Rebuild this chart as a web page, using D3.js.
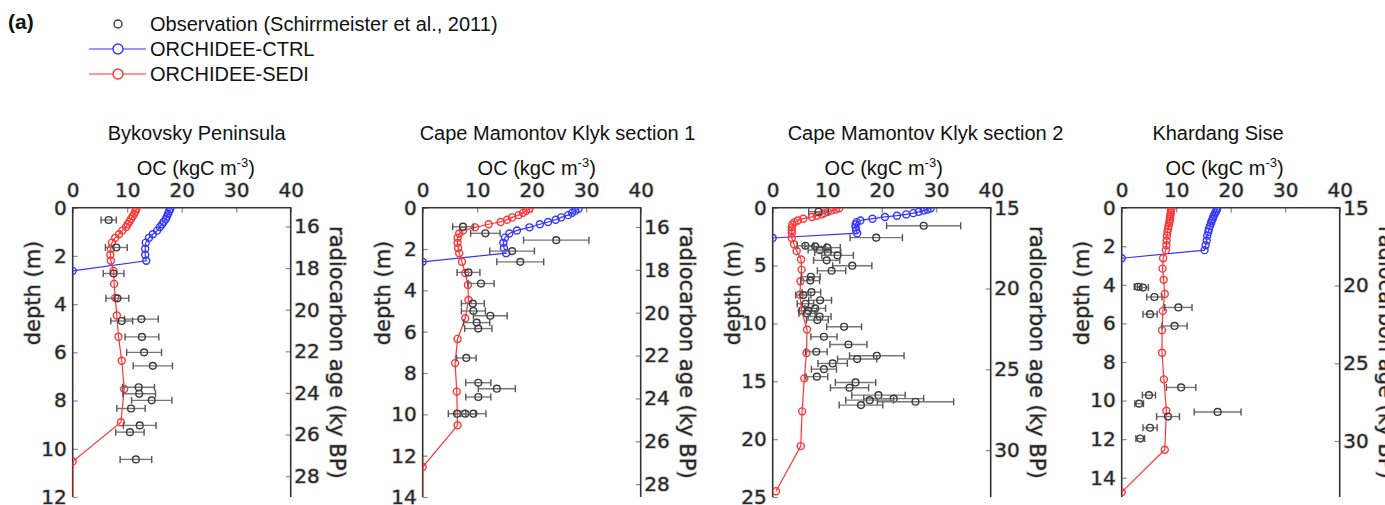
<!DOCTYPE html>
<html>
<head>
<meta charset="utf-8">
<script src="https://d3js.org/d3.v7.min.js"></script>
<style>
	body { margin: 0; background: #fff; }
	svg { display: block; }
	.num { font-family: "DejaVu Sans", sans-serif; fill: #262626; stroke: #c4c4c4; stroke-width: 1.5px; paint-order: stroke; }
	.plain { font-family: "Liberation Sans", Arial, sans-serif; fill: #111; }
</style>
</head>
<body>
<svg id="fig" width="1385" height="505"></svg>
<script>
// ------------------------------------------------------------------------
//		Data
// ------------------------------------------------------------------------
var siteNames = ["Bykovsky Peninsula", "Cape Mamontov Klyk section 1", "Cape Mamontov Klyk section 2", "Khardang Sise"];
var depthMax = [12, 14, 25, 15];
var depthTicks = [[0, 2, 4, 6, 8, 10, 12], [0, 2, 4, 6, 8, 10, 12, 14], [0, 5, 10, 15, 20, 25], [0, 2, 4, 6, 8, 10, 12, 14]];
var ageDomain = [[15.1, 29], [15.1, 28.6], [15, 32.9], [15, 33.6]];
var ageTicks = [[16, 18, 20, 22, 24, 26, 28], [16, 18, 20, 22, 24, 26, 28], [15, 20, 25, 30], [15, 20, 25, 30]];
var ocTicks = [0, 10, 20, 30, 40];

// model layer depths (m)
var layerDepth = [0.05, 0.15, 0.25, 0.36, 0.47, 0.58, 0.69, 0.8, 0.95, 1.1, 1.25, 1.45, 1.7, 1.95, 2.2,
	2.62, 3.16, 3.74, 4.47, 5.35, 6.35, 7.52, 8.9, 10.53, 12.55, 14.75, 17.6, 20.6, 24.5];

// ORCHIDEE-SEDI / ORCHIDEE-CTRL, OC (kgC m-3) per layer
var sediBykovsky = [11.7, 11.5, 11.3, 11.0, 10.7, 10.4, 10.1, 9.8, 9.1, 8.5, 7.8, 7.2, 7.0, 6.9, 7.0,
	7.5, 7.6, 7.8, 8.1, 8.4, 9.0, 9.45, 8.85, 0, 0];
var ctrlBykovsky = [17.9, 17.7, 17.5, 17.3, 17.1, 16.7, 16.4, 16.0, 15.5, 14.7, 14.0, 13.4, 13.3, 13.3, 13.5, 0];
var sediMamontov1 = [19.6, 19.0, 18.4, 17.6, 16.4, 15.5, 14.3, 12.1, 9.6, 7.4, 6.7, 6.4, 6.4, 6.5, 6.7,
	7.2, 7.8, 8.3, 8.4, 7.8, 6.4, 5.95, 6.25, 6.4, 0, 0];
var ctrlMamontov1 = [28.6, 28.0, 27.4, 26.7, 25.4, 24.4, 23.0, 21.5, 19.6, 17.3, 15.9, 15.1, 14.8, 14.9, 15.3, 0];
var sediMamontov2 = [12.2, 11.6, 10.8, 10.1, 9.5, 9.0, 8.1, 7.2, 5.6, 4.6, 4.0, 3.6, 3.5, 3.5, 3.5,
	3.5, 3.9, 4.4, 5.2, 5.3, 5.1, 5.0, 5.3, 6.3, 6.2, 5.8, 5.4, 5.15, 0.6];
var ctrlMamontov2 = [29.0, 28.4, 27.7, 26.8, 25.8, 24.5, 22.8, 20.6, 18.3, 16.1, 15.4, 15.2, 15.2, 15.3, 15.5, 0];
var sediKhardang = [9.1, 9.05, 9.0, 8.95, 8.9, 8.85, 8.8, 8.7, 8.6, 8.5, 8.4, 8.3, 8.25, 8.2, 8.1,
	7.6, 7.5, 7.7, 7.9, 7.55, 7.4, 7.4, 7.75, 8.2, 7.9, 0];
var ctrlKhardang = [17.5, 17.4, 17.2, 17.0, 16.8, 16.7, 16.5, 16.4, 16.2, 16.0, 15.9, 15.7, 15.6, 15.4, 15.2, 0];

// Observations (Schirrmeister et al., 2011): depth (m), OC, error
var obsDepthBykovsky = [0.51, 1.65, 2.73, 3.76, 4.62, 4.70, 5.36, 6.0, 6.56, 7.45, 7.72, 7.99, 8.33, 9.03, 9.31, 10.44];
var obsOcBykovsky = [6.6, 8.0, 7.5, 8.2, 12.6, 9.0, 12.7, 13.1, 14.7, 12.1, 12.2, 14.5, 10.7, 12.3, 10.5, 11.6];
var obsErrBykovsky = [1.4, 2.0, 1.9, 2.1, 3.1, 2.0, 3.1, 3.2, 3.6, 2.9, 3.0, 3.7, 2.6, 3.0, 2.6, 2.9];

var obsDepthMamontov1 = [0.92, 1.24, 1.57, 2.1, 2.62, 3.13, 3.67, 4.64, 5.0, 5.23, 5.56, 5.85, 7.27, 8.47, 8.76, 9.16, 9.97, 9.97, 9.97];
var obsOcMamontov1 = [7.4, 11.5, 24.5, 16.4, 17.9, 8.4, 10.7, 9.2, 9.3, 12.4, 9.9, 10.2, 8.0, 10.2, 13.6, 10.2, 6.3, 7.8, 9.3];
var obsErrMamontov1 = [1.9, 2.7, 6.0, 4.1, 4.3, 2.1, 2.4, 2.1, 2.2, 3.1, 2.4, 2.5, 1.8, 2.3, 3.4, 2.3, 1.6, 1.9, 2.3];

var obsDepthMamontov2 = [0.35, 1.56, 2.59, 3.29, 3.35, 3.45, 3.66, 3.86, 4.12, 4.55, 5.01, 5.45, 5.97, 6.3, 7.3, 7.55,
	8.0, 8.3, 8.7, 8.9, 9.14, 9.4, 9.71, 10.29, 11.15, 11.82, 12.45, 12.8, 13.08, 13.46, 13.95, 14.6,
	15.1, 15.56, 16.2, 16.5, 16.63, 16.77, 17.06];
var obsOcMamontov2 = [8.4, 27.7, 19.0, 6.0, 7.8, 10.0, 8.6, 10.1, 11.9, 9.9, 14.6, 10.8, 7.0, 6.9, 7.1, 5.6,
	8.7, 6.0, 7.8, 6.5, 6.3, 8.6, 8.2, 13.1, 9.4, 13.9, 8.0, 19.1, 15.5, 11.0, 9.4, 8.1,
	15.2, 14.1, 19.4, 22.2, 17.8, 26.2, 16.2];
var obsErrMamontov2 = [1.8, 6.8, 4.8, 1.5, 1.9, 2.4, 2.1, 2.4, 2.9, 2.4, 3.6, 2.6, 1.7, 1.7, 1.7, 1.4,
	2.1, 1.5, 1.9, 1.6, 1.5, 2.1, 2.0, 3.2, 2.4, 3.4, 2.0, 5.0, 3.6, 2.7, 2.3, 2.0,
	3.7, 3.5, 4.9, 5.5, 4.4, 7.0, 4.0];

var obsDepthKhardang = [4.1, 4.14, 4.63, 5.17, 5.52, 6.13, 9.32, 9.72, 10.16, 10.59, 10.83, 11.41, 11.97];
var obsOcKhardang = [3.0, 3.9, 6.0, 10.4, 5.2, 9.7, 10.9, 5.0, 3.2, 17.6, 8.5, 5.2, 3.4];
var obsErrKhardang = [0.7, 1.0, 1.4, 2.5, 1.3, 2.3, 2.7, 1.2, 0.8, 4.3, 2.1, 1.3, 0.8];

// ------------------------------------------------------------------------
//		Layout and styles
// ------------------------------------------------------------------------
var panelLeft = [72.7, 422.7, 772.7, 1121.7];
var plotW = 218, plotTop = 207.7, plotBottom = 497;
var titleX = [196.7, 557.5, 925.5, 1218];
var ocLabelX = [195.8, 536.7, 883.7, 1224.5];
var sediColor = "#ff3535", ctrlColor = "#3535ff", obsColor = "#3c3c3c";

var svg = d3.select("#fig");

function makePanel(i, sedi, ctrl, obsDepth, obsOc, obsErr) {
	var left = panelLeft[i], right = left + plotW;
	var x = d3.scaleLinear().domain([0, 40]).range([left, right]);
	var y = d3.scaleLinear().domain([0, depthMax[i]]).range([plotTop, plotBottom]);
	var yAge = d3.scaleLinear().domain(ageDomain[i]).range([plotTop, plotBottom]);
	var g = svg.append("g");

	// clip for the model profiles
	g.append("clipPath").attr("id", "clip" + i)
		.append("rect")
			.attr("x", left).attr("y", plotTop)
			.attr("width", plotW).attr("height", plotBottom - plotTop);

	// titles
	g.append("text").attr("class", "plain")
		.attr("x", titleX[i]).attr("y", 140)
		.attr("text-anchor", "middle").style("font-size", "20px")
		.text(siteNames[i]);
	var oc = g.append("text").attr("class", "plain")
		.attr("x", ocLabelX[i]).attr("y", 175)
		.attr("text-anchor", "middle").style("font-size", "20px");
	oc.append("tspan").text("OC (kgC m");
	oc.append("tspan").attr("dy", -8).style("font-size", "13px").text("-3");
	oc.append("tspan").attr("dy", 8).text(")");

	// axes (ticks point inward)
	function styleAxis(sel) {
		sel.select(".domain").remove();
		sel.selectAll(".tick line").attr("stroke", "#8a8a8a").attr("stroke-width", 1.2);
		sel.selectAll(".tick text").attr("class", "num").style("font-size", "20px")
			.attr("fill", null).attr("font-family", null);
		sel.attr("font-size", null).attr("font-family", null);
	}
	g.append("g").attr("transform", "translate(0," + plotTop + ")")
		.call(d3.axisTop(x).tickValues(ocTicks).tickFormat(d3.format("d")).tickSize(-5).tickPadding(10.5))
		.call(styleAxis);
	g.append("g").attr("transform", "translate(" + left + ",0)")
		.call(d3.axisLeft(y).tickValues(depthTicks[i]).tickFormat(d3.format("d")).tickSize(-5).tickPadding(6))
		.call(styleAxis);
	g.append("g").attr("transform", "translate(" + right + ",0)")
		.call(d3.axisRight(yAge).tickValues(ageTicks[i]).tickFormat(d3.format("d")).tickSize(-5).tickPadding(3.5))
		.call(styleAxis);

	// frame (left, top, right)
	g.append("path")
		.attr("d", "M" + left + "," + plotBottom + "V" + plotTop + "H" + right + "V" + plotBottom)
		.attr("fill", "none").attr("stroke", "#333").attr("stroke-width", 1.6);

	// axis labels
	g.append("text").attr("class", "num")
		.attr("transform", "translate(" + (left - 40) + ",293) rotate(-90)")
		.attr("text-anchor", "middle").attr("dominant-baseline", "central")
		.style("font-size", "21px").text("depth (m)");
	g.append("text").attr("class", "num")
		.attr("transform", "translate(" + (right + 46) + "," + ((plotTop + plotBottom) / 2) + ") rotate(90)")
		.attr("text-anchor", "middle").attr("dominant-baseline", "central")
		.style("font-size", "21px").text("radiocarbon age (ky BP)");

	// model profiles
	var line = d3.line().x(function(d) { return x(d.oc); }).y(function(d) { return y(d.depth); });
	var prof = g.append("g").attr("clip-path", "url(#clip" + i + ")");
	[[ctrl, ctrlColor], [sedi, sediColor]].forEach(function(s) {
		var pts = s[0].map(function(v, k) { return {depth: layerDepth[k], oc: v}; });
		prof.append("path").datum(pts)
			.attr("d", line).attr("fill", "none")
			.attr("stroke", s[1]).attr("stroke-width", 1.2);
		prof.selectAll(null).data(pts).enter().append("circle")
			.attr("cx", function(d) { return x(d.oc); })
			.attr("cy", function(d) { return y(d.depth); })
			.attr("r", 3.5).attr("fill", "none")
			.attr("stroke", s[1]).attr("stroke-width", 1.4);
	});

	// observations with error bars
	var obs = obsDepth.map(function(dd, k) { return {depth: dd, oc: obsOc[k], err: obsErr[k]}; });
	var og = g.append("g").selectAll("g").data(obs).enter().append("g");
	og.append("line")
		.attr("x1", function(d) { return x(d.oc - d.err); })
		.attr("x2", function(d) { return x(d.oc + d.err); })
		.attr("y1", function(d) { return y(d.depth); })
		.attr("y2", function(d) { return y(d.depth); })
		.attr("stroke", "#777").attr("stroke-width", 1.4);
	[-1, 1].forEach(function(sgn) {
		og.append("line")
			.attr("x1", function(d) { return x(d.oc + sgn * d.err); })
			.attr("x2", function(d) { return x(d.oc + sgn * d.err); })
			.attr("y1", function(d) { return y(d.depth) - 3.5; })
			.attr("y2", function(d) { return y(d.depth) + 3.5; })
			.attr("stroke", "#555").attr("stroke-width", 1.4);
	});
	og.append("circle")
		.attr("cx", function(d) { return x(d.oc); })
		.attr("cy", function(d) { return y(d.depth); })
		.attr("r", 3.4).attr("fill", "none")
		.attr("stroke", obsColor).attr("stroke-width", 1.4);
}

makePanel(0, sediBykovsky, ctrlBykovsky, obsDepthBykovsky, obsOcBykovsky, obsErrBykovsky);
makePanel(1, sediMamontov1, ctrlMamontov1, obsDepthMamontov1, obsOcMamontov1, obsErrMamontov1);
makePanel(2, sediMamontov2, ctrlMamontov2, obsDepthMamontov2, obsOcMamontov2, obsErrMamontov2);
makePanel(3, sediKhardang, ctrlKhardang, obsDepthKhardang, obsOcKhardang, obsErrKhardang);

// ------------------------------------------------------------------------
//		Legend
// ------------------------------------------------------------------------
svg.append("text").attr("class", "plain")
	.attr("x", 8).attr("y", 29)
	.style("font-size", "21px").style("font-weight", "bold")
	.text("(a)");

var legendItems = [
	{label: "Observation (Schirrmeister et al., 2011)", color: obsColor, line: false},
	{label: "ORCHIDEE-CTRL", color: ctrlColor, line: true},
	{label: "ORCHIDEE-SEDI", color: sediColor, line: true}
];
var leg = svg.append("g").selectAll("g").data(legendItems).enter().append("g")
	.attr("transform", function(d, k) { return "translate(0," + (24 + k * 25) + ")"; });
leg.filter(function(d) { return d.line; }).append("line")
	.attr("x1", 89).attr("x2", 146).attr("y1", 0).attr("y2", 0)
	.attr("stroke", function(d) { return d.color; }).attr("stroke-width", 1.2);
leg.append("circle")
	.attr("cx", 118).attr("cy", 0)
	.attr("r", function(d) { return d.line ? 5 : 4; })
	.attr("fill", "#fff")
	.attr("stroke", function(d) { return d.color; }).attr("stroke-width", 1.4);
leg.append("text").attr("class", "plain")
	.attr("x", 150).attr("y", 6.5)
	.style("font-size", "20px")
	.text(function(d) { return d.label; });
</script>
</body>
</html>
